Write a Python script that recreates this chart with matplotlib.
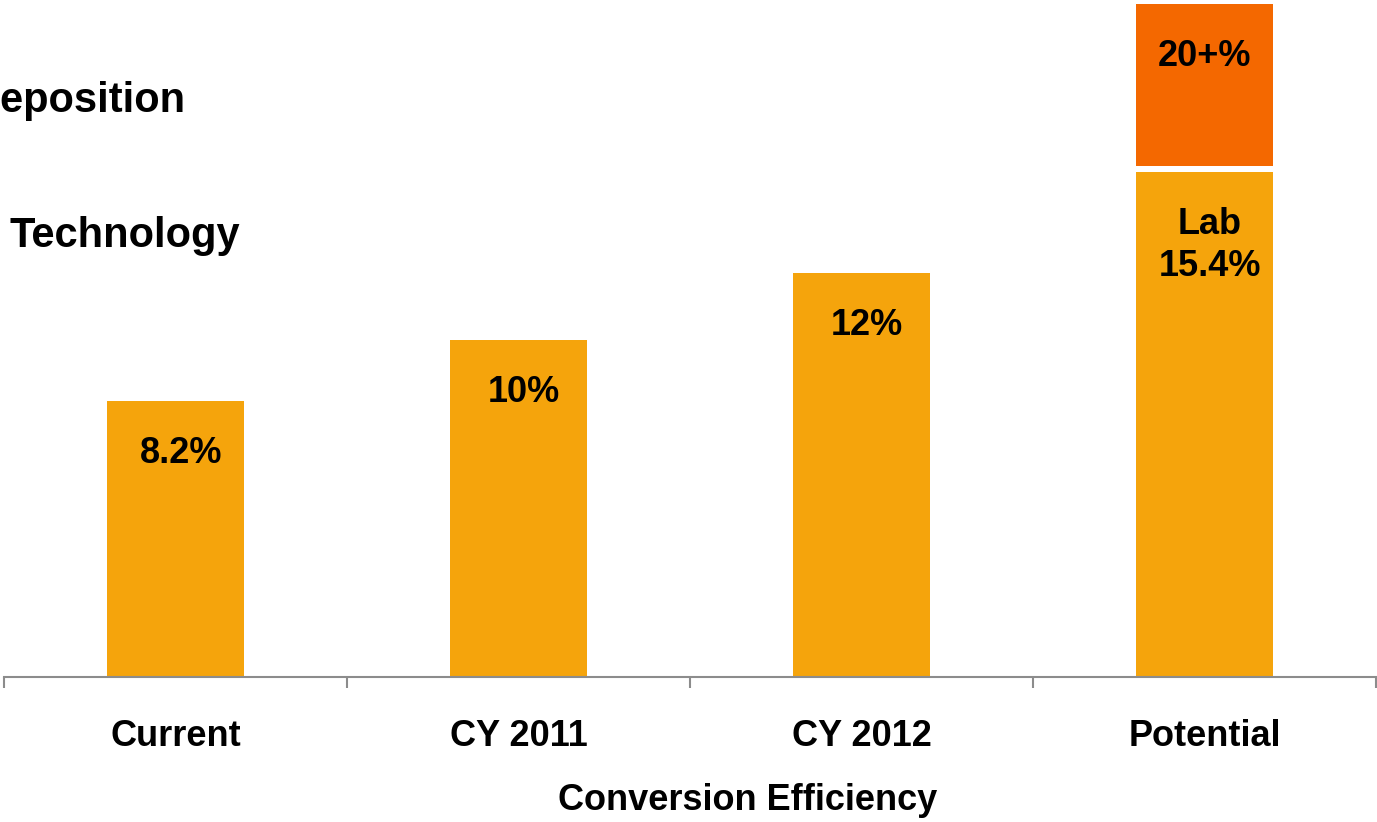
import numpy as np
import matplotlib
matplotlib.use("Agg")
import matplotlib.pyplot as plt

# data
categories = ["Current", "CY 2011", "CY 2012", "Potential"]
efficiency = [8.2, 10.0, 12.0, 15.0]
value_labels = ["8.2%", "10%", "12%", "Lab\n15.4%"]
potential_top = 20.0          # "20+%" segment reaches this
potential_top_base = 15.2     # upper segment starts just above the lab bar
potential_label = "20+%"

amber = "#F5A40C"
orange = "#F46800"
axis_grey = "#8C8C8C"

plt.rcParams["font.family"] = ["Liberation Sans", "DejaVu Sans"]
plt.rcParams["font.weight"] = "bold"

fig = plt.figure(figsize=(13.77, 8.22), dpi=100)
ax = fig.add_axes([4 / 1377, 1 - 677 / 822, 1372 / 1377, 673 / 822])

x = np.arange(len(categories))
ax.bar(x, efficiency, width=0.4, color=amber, zorder=2)
ax.bar(x[-1], potential_top - potential_top_base, bottom=potential_top_base,
       width=0.4, color=orange, zorder=2, clip_on=False)

ax.set_xlim(-0.5, len(categories) - 0.5)
ax.set_ylim(0, potential_top)

# value labels inside the bars
for xi, v, lab in zip(x, efficiency, value_labels):
    ax.annotate(lab, (xi, v), xytext=(4, -25), textcoords="offset points",
                ha="center", va="top", fontsize=26, fontweight="bold",
                linespacing=1.25)
ax.annotate(potential_label, (x[-1], potential_top), xytext=(0, -25),
            textcoords="offset points", ha="center", va="top",
            fontsize=26, fontweight="bold")

# axis styling
for side in ["top", "right", "left"]:
    ax.spines[side].set_visible(False)
ax.spines["bottom"].set_color(axis_grey)
ax.spines["bottom"].set_linewidth(1.5)
ax.set_yticks([])
ax.set_xticks(x)
ax.set_xticklabels(categories, fontsize=26, fontweight="bold")
ax.tick_params(axis="x", which="major", length=0, pad=30)
ax.set_xticks(np.arange(-0.5, len(categories)), minor=True)
ax.tick_params(axis="x", which="minor", length=8, width=1.5, color=axis_grey)

fig.text(748 / 1377, 1 - 800 / 822, "Conversion Efficiency", ha="center",
         va="center", fontsize=26, fontweight="bold")

# slide text cut off at the left edge, as in the source
fig.text(-30 / 1377, 1 - 101 / 822, "Deposition", ha="left", va="center",
         fontsize=30, fontweight="bold")
fig.text(10 / 1377, 1 - 236 / 822, "Technology", ha="left", va="center",
         fontsize=30, fontweight="bold")

fig.savefig("out.png", dpi=100)
